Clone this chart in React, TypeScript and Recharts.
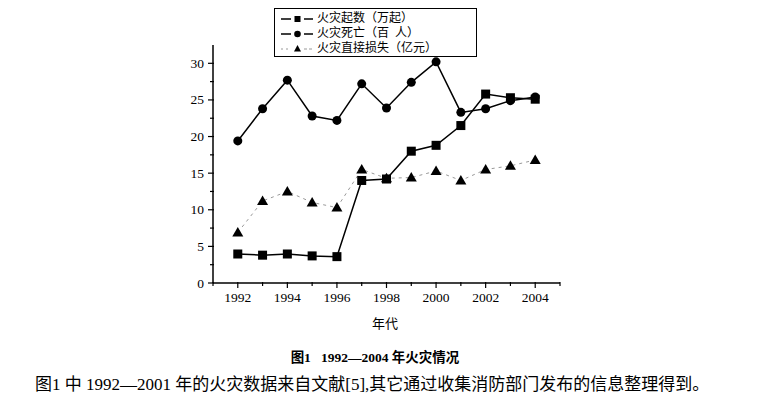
import { Line, LineChart, XAxis, YAxis } from "recharts";

const years = [1992, 1993, 1994, 1995, 1996, 1997, 1998, 1999, 2000, 2001, 2002, 2003, 2004];
const fireCount = [3.96, 3.8, 3.96, 3.7, 3.6, 14.0, 14.2, 18.0, 18.8, 21.5, 25.8, 25.3, 25.1];
const fireDeaths = [19.4, 23.8, 27.7, 22.8, 22.2, 27.2, 23.9, 27.4, 30.2, 23.3, 23.8, 24.9, 25.4];
const fireLoss = [6.9, 11.2, 12.5, 11.0, 10.3, 15.5, 14.3, 14.4, 15.3, 14.0, 15.5, 16.0, 16.8];

const xTicks = [1991, 1992, 1993, 1994, 1995, 1996, 1997, 1998, 1999, 2000, 2001, 2002, 2003, 2004, 2005];
const yTicks = [0, 2.5, 5, 7.5, 10, 12.5, 15, 17.5, 20, 22.5, 25, 27.5, 30];

const seriesNames = ["火灾起数（万起）", "火灾死亡（百  人）", "火灾直接损失（亿元）"];

const data = years.map((year, i) => ({
  year,
  count: fireCount[i],
  deaths: fireDeaths[i],
  loss: fireLoss[i],
}));

const serif = "Liberation Serif, Times New Roman, DejaVu Serif, serif";
const cjk = "Liberation Serif, Times New Roman, Noto Sans CJK SC, serif";

function XTick({ x, y, payload }: any) {
  const v = payload.value as number;
  const major = v % 2 === 0 && v >= 1992 && v <= 2004;
  return (
    <g>
      <line x1={x} x2={x} y1={y - 1} y2={y + (major ? 5 : 3)} stroke="#000" strokeWidth={1.2} />
      {major && (
        <text x={x} y={y + 19} textAnchor="middle" style={{ fontFamily: serif }} fontSize={13.5} fill="#000">
          {v}
        </text>
      )}
    </g>
  );
}

function YTick({ x, y, payload }: any) {
  const v = payload.value as number;
  const major = v % 5 === 0;
  return (
    <g>
      <line x1={x + 1} x2={x - (major ? 5 : 3)} y1={y} y2={y} stroke="#000" strokeWidth={1.2} />
      {major && (
        <text x={x - 9} y={y + 4.5} textAnchor="end" style={{ fontFamily: serif }} fontSize={13.5} fill="#000">
          {v}
        </text>
      )}
    </g>
  );
}

function SquareDot({ cx, cy }: any) {
  return <rect x={cx - 4.5} y={cy - 4.5} width={9} height={9} fill="#000" />;
}

function TriangleDot({ cx, cy }: any) {
  return <path d={`M${cx},${cy - 5.5} L${cx + 5.5},${cy + 4} L${cx - 5.5},${cy + 4} Z`} fill="#000" />;
}

function LegendBox() {
  const rows = [0, 1, 2];
  return (
    <div
      style={{
        position: "absolute",
        left: 274,
        top: 8,
        width: 201,
        height: 47,
        border: "1.5px solid #000",
        background: "#fff",
      }}
    >
      {rows.map((i) => (
        <div key={i} style={{ position: "absolute", left: 0, top: 2 + i * 15, height: 15, width: 200 }}>
          <svg width={40} height={15} style={{ position: "absolute", left: 4, top: 0 }}>
            {i === 2 ? (
              <>
                <line x1={2} x2={12} y1={8} y2={8} stroke="#999" strokeDasharray="2 3" />
                <line x1={25} x2={34} y1={8} y2={8} stroke="#999" strokeDasharray="3 2" />
                <path d="M18.5,4 L22,10.5 L15,10.5 Z" fill="#000" />
              </>
            ) : (
              <>
                <line x1={2} x2={12} y1={8} y2={8} stroke="#000" strokeWidth={1.5} />
                <line x1={25} x2={34} y1={8} y2={8} stroke="#000" strokeWidth={1.5} />
                {i === 0 ? (
                  <rect x={15.5} y={5} width={6} height={6} fill="#000" />
                ) : (
                  <circle cx={18.5} cy={8} r={3.3} fill="#000" />
                )}
              </>
            )}
          </svg>
          <span
            style={{
              position: "absolute",
              left: 42,
              top: 0,
              fontFamily: cjk,
              fontSize: 12,
              lineHeight: "15px",
              whiteSpace: "pre",
              color: "#000",
            }}
          >
            {seriesNames[i]}
          </span>
        </div>
      ))}
    </div>
  );
}

export default function App() {
  return (
    <div style={{ position: "absolute", left: 0, top: 0, width: 762, height: 400, background: "#fff" }}>
      <LineChart
        width={762}
        height={400}
        data={data}
        margin={{ top: 45, right: 202, bottom: 87, left: 153 }}
      >
        <XAxis
          dataKey="year"
          type="number"
          domain={[1991, 2005]}
          ticks={xTicks}
          interval={0}
          height={30}
          tickSize={0}
          tickMargin={0}
          tick={<XTick />}
          tickLine={false}
          axisLine={{ stroke: "#000", strokeWidth: 1.5 }}
        />
        <YAxis
          type="number"
          domain={[0, 32.5]}
          ticks={yTicks}
          interval={0}
          width={60}
          tickSize={0}
          tickMargin={0}
          tick={<YTick />}
          tickLine={false}
          axisLine={{ stroke: "#000", strokeWidth: 1.5 }}
        />
        <Line
          dataKey="loss"
          name={seriesNames[2]}
          stroke="#999"
          strokeWidth={1}
          strokeDasharray="3 4"
          dot={<TriangleDot />}
          isAnimationActive={false}
        />
        <Line
          dataKey="count"
          name={seriesNames[0]}
          stroke="#000"
          strokeWidth={1.5}
          dot={<SquareDot />}
          isAnimationActive={false}
        />
        <Line
          dataKey="deaths"
          name={seriesNames[1]}
          stroke="#000"
          strokeWidth={1.5}
          dot={{ r: 4.5, fill: "#000", stroke: "#000", strokeWidth: 0 }}
          isAnimationActive={false}
        />
      </LineChart>
      <LegendBox />
      <div
        style={{
          position: "absolute",
          left: 385,
          top: 313,
          transform: "translateX(-50%)",
          fontFamily: cjk,
          fontSize: 13,
          color: "#000",
        }}
      >
        年代
      </div>
      <div
        style={{
          position: "absolute",
          left: 375,
          top: 346,
          transform: "translateX(-50%)",
          fontFamily: cjk,
          fontSize: 13.5,
          fontWeight: "bold",
          whiteSpace: "pre",
          color: "#000",
        }}
      >
        {"图1   1992—2004 年火灾情况"}
      </div>
      <div
        style={{
          position: "absolute",
          left: 35,
          top: 370,
          fontFamily: cjk,
          fontSize: 17,
          whiteSpace: "pre",
          color: "#000",
        }}
      >
        图1 中 1992—2001 年的火灾数据来自文献[5],其它通过收集消防部门发布的信息整理得到。
      </div>
    </div>
  );
}
